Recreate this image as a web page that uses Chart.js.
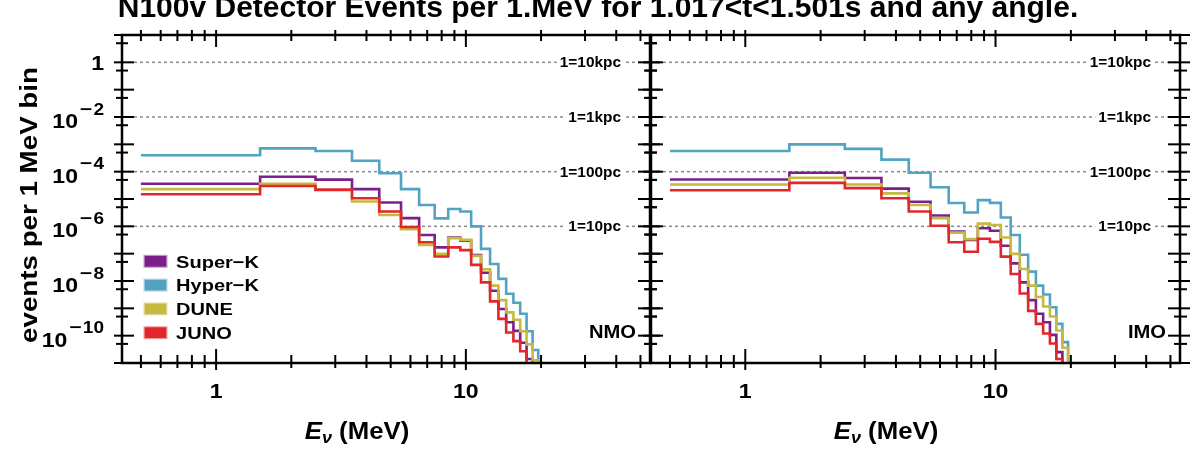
<!DOCTYPE html>
<html>
<head>
<meta charset="utf-8">
<script src="https://cdn.jsdelivr.net/npm/chart.js@4.4.1/dist/chart.umd.min.js"></script>
<style>
  body { margin: 0; background: #fff; }
  #wrap { position: relative; width: 1196px; height: 453px; overflow: hidden; }
  #wrap canvas { position: absolute; left: 0; top: 0; }
</style>
</head>
<body>
<div id="wrap">
  <canvas id="nmo" width="1196" height="453"></canvas>
  <canvas id="imo" width="1196" height="453"></canvas>
</div>
<script>
// bin edges (MeV), 1 MeV bins
var binEdges = [0.5, 1.5, 2.5, 3.5, 4.5, 5.5, 6.5, 7.5, 8.5, 9.5, 10.5,
                11.5, 12.5, 13.5, 14.5, 15.5, 16.5, 17.5, 18.5, 19.5];

var detectors = ["Super\u2212K", "Hyper\u2212K", "DUNE", "JUNO"];
var detColors = ["#7b1f8b", "#52a3c2", "#c6b93f", "#e2262a"];

// normal mass ordering
var nmoSuperK = [3.6e-5, 6.5e-5, 5.1e-5, 2.3e-5, 7.4e-6, 2.0e-6, 4.8e-7, 1.7e-7, 3.9e-7, 3.0e-7,
                 8.9e-8, 2.0e-8, 4.4e-9, 9.5e-10, 3.1e-10, 1.5e-10, 5.5e-11, 1.4e-11];
var nmoHyperK = [4.0e-4, 7.1e-4, 5.7e-4, 2.5e-4, 8.7e-5, 2.3e-5, 6.0e-6, 1.95e-6, 4.3e-6, 3.5e-6,
                 1.0e-6, 1.5e-7, 4.2e-8, 1.2e-8, 3.4e-9, 1.6e-9, 6.3e-10, 1.45e-10, 3.0e-11];
var nmoDune   = [2.3e-5, 3.6e-5, 2.1e-5, 8.1e-6, 2.6e-6, 7.9e-7, 2.1e-7, 9.8e-8, 3.7e-7, 3.2e-7,
                 8.3e-8, 2.7e-8, 6.8e-9, 2.0e-9, 7.1e-10, 3.8e-10, 1.45e-10, 4.8e-11, 1.26e-11];
var nmoJuno   = [1.5e-5, 3.0e-5, 2.2e-5, 1.07e-5, 3.5e-6, 9.5e-7, 2.6e-7, 7.9e-8, 1.7e-7, 1.35e-7,
                 3.9e-8, 8.9e-9, 1.8e-9, 4.1e-10, 1.3e-10, 6.3e-11, 2.7e-11];

// inverted mass ordering
var imoSuperK = [5.2e-5, 9.1e-5, 5.9e-5, 2.4e-5, 7.9e-6, 2.5e-6, 6.5e-7, 3.2e-7, 8.5e-7, 6.9e-7,
                 1.95e-7, 4.4e-8, 8.9e-9, 2.0e-9, 6.3e-10, 3.1e-10, 1.07e-10, 2.5e-11];
var imoHyperK = [5.7e-4, 1.0e-3, 6.8e-4, 2.75e-4, 9.1e-5, 2.7e-5, 7.1e-6, 3.2e-6, 9.1e-6, 7.2e-6,
                 2.1e-6, 4.8e-7, 9.1e-8, 2.2e-8, 6.8e-9, 3.2e-9, 1.1e-9, 2.7e-10, 5.8e-11];
var imoDune   = [3.4e-5, 6.0e-5, 3.4e-5, 1.6e-5, 6.0e-6, 2.0e-6, 5.9e-7, 3.4e-7, 1.26e-6, 1.12e-6,
                 3.9e-7, 9.8e-8, 2.75e-8, 6.8e-9, 2.6e-9, 1.17e-9, 5.0e-10, 1.55e-10, 3.6e-11];
var imoJuno   = [2.1e-5, 3.9e-5, 2.5e-5, 1.07e-5, 3.5e-6, 1.05e-6, 2.6e-7, 1.17e-7, 3.5e-7, 2.7e-7,
                 7.8e-8, 1.8e-8, 3.5e-9, 8.1e-10, 2.7e-10, 1.2e-10, 5.2e-11, 1.4e-11];

// axes
var xMin = 0.42, xMax = 54.6;
var yMin = 1e-11, yMax = 10;
var xMajorTicks = [1, 10];
var xTickLabels = ["1", "10"];
var xMinorTicks = [0.5, 0.6, 0.7, 0.8, 0.9, 2, 3, 4, 5, 6, 7, 8, 9, 20, 30, 40, 50];
var yLabelExps = [0, -2, -4, -6, -8, -10];

// distance reference lines
var refValues = [1, 1e-2, 1e-4, 1e-6];
var refLabels = ["1=10kpc", "1=1kpc", "1=100pc", "1=10pc"];

var titleText = "N100v Detector Events per 1.MeV for 1.017<t<1.501s and any angle.";
var yTitle = "events per 1 MeV bin";

var FONT = '"Liberation Sans", Arial, Helvetica, sans-serif';

function measure(ctx, s, size, style, sx) {
  ctx.save();
  ctx.font = (style || "bold") + " " + size + "px " + FONT;
  var w = ctx.measureText(s).width * (sx || 1);
  ctx.restore();
  return w;
}

// text is drawn a little wider than Liberation, like the original
function drawText(ctx, s, x, y, size, align, style, sx) {
  sx = sx || 1;
  var w = measure(ctx, s, size, style, sx);
  var left = x;
  if (align === "right") left = x - w;
  if (align === "center") left = x - w / 2;
  ctx.save();
  ctx.font = (style || "bold") + " " + size + "px " + FONT;
  ctx.translate(left, y);
  ctx.scale(sx, 1);
  ctx.textAlign = "left";
  ctx.textBaseline = "alphabetic";
  ctx.fillStyle = "#000";
  ctx.fillText(s, 0, 0);
  ctx.restore();
  return w;
}

function histPoints(vals) {
  var pts = [];
  for (var i = 0; i < vals.length; i++) {
    pts.push({ x: binEdges[i], y: vals[i] });
  }
  var hi = binEdges[vals.length];
  pts.push({ x: hi, y: vals[vals.length - 1] });
  pts.push({ x: hi, y: 1e-16 }); // drop out of the frame
  return pts;
}

function line(ctx, x1, y1, x2, y2) {
  ctx.beginPath();
  ctx.moveTo(x1, y1);
  ctx.lineTo(x2, y2);
  ctx.stroke();
}

var panelPlugin = {
  id: "panel",
  beforeDatasetsDraw: function (chart, args, opt) {
    var ctx = chart.ctx, a = chart.chartArea, ys = chart.scales.y;
    ctx.save();
    ctx.strokeStyle = "#8a8a8a";
    ctx.lineWidth = 1.5;
    ctx.setLineDash([3, 3]);
    for (var i = 0; i < refValues.length; i++) {
      var py = ys.getPixelForValue(refValues[i]);
      line(ctx, a.left, py, a.right, py);
    }
    ctx.setLineDash([]);
    for (var i = 0; i < refValues.length; i++) {
      var py = ys.getPixelForValue(refValues[i]);
      var w = measure(ctx, refLabels[i], 14, "bold", 1.1);
      var xr = a.right - 29;
      ctx.fillStyle = "#fff";
      ctx.fillRect(xr - w - 3, py - 7, w + 6, 14);
      drawText(ctx, refLabels[i], xr, py + 5, 14, "right", "bold", 1.1);
    }
    ctx.restore();
  },
  afterDatasetsDraw: function (chart, args, opt) {
    var ctx = chart.ctx, a = chart.chartArea;
    var xs = chart.scales.x, ys = chart.scales.y;
    ctx.save();
    ctx.strokeStyle = "#000";
    ctx.lineCap = "butt";

    // ticks
    ctx.lineWidth = 2;
    var i, px, py;
    for (i = 0; i < xMinorTicks.length; i++) {
      px = xs.getPixelForValue(xMinorTicks[i]);
      line(ctx, px, a.bottom - 8, px, a.bottom + 5);
      line(ctx, px, a.top - 5, px, a.top + 6);
    }
    for (i = 0; i < xMajorTicks.length; i++) {
      px = xs.getPixelForValue(xMajorTicks[i]);
      line(ctx, px, a.bottom - 14, px, a.bottom + 7);
      line(ctx, px, a.top - 5, px, a.top + 12);
    }
    for (var e = -12; e <= 1; e++) {
      var major = Math.pow(10, e), minor = 5 * Math.pow(10, e);
      if (major >= yMin && major <= yMax) {
        py = ys.getPixelForValue(major);
        line(ctx, a.left - 8, py, a.left + 12, py);
        line(ctx, a.right - 12, py, a.right + 10, py);
      }
      if (minor >= yMin && minor <= yMax) {
        py = ys.getPixelForValue(minor);
        line(ctx, a.left - 6, py, a.left + 6, py);
        line(ctx, a.right - 6, py, a.right + 7, py);
      }
    }

    // frame
    ctx.lineWidth = 2.5;
    ctx.strokeRect(a.left, a.top, a.right - a.left, a.bottom - a.top);

    // x tick labels
    for (i = 0; i < xMajorTicks.length; i++) {
      px = xs.getPixelForValue(xMajorTicks[i]);
      drawText(ctx, xTickLabels[i], px, 398, 21, "center", "bold", 1.1);
    }

    // x title: E_nu (MeV)
    var wE = measure(ctx, "E", 23, "italic bold", 1.12);
    var wNu = measure(ctx, "\u03bd", 16, "italic bold", 1.12);
    var wRest = measure(ctx, " (MeV)", 23, "bold", 1.12);
    var x0 = a.left + 235 - (wE + wNu + wRest) / 2;
    drawText(ctx, "E", x0, 439, 23, "left", "italic bold", 1.12);
    drawText(ctx, "\u03bd", x0 + wE, 443, 16, "left", "italic bold", 1.12);
    drawText(ctx, " (MeV)", x0 + wE + wNu, 439, 23, "left", "bold", 1.12);

    // ordering tag
    drawText(ctx, opt.tag, a.right - 14, 337.5, 18, "right", "bold", 1.12);

    if (opt.leftSide) {
      // y tick labels
      for (i = 0; i < yLabelExps.length; i++) {
        var ex = yLabelExps[i];
        py = ys.getPixelForValue(Math.pow(10, ex));
        var xr = a.left - 18;
        if (ex === 0) {
          drawText(ctx, "1", xr, py + 8, 21, "right", "bold", 1.1);
        } else {
          var wd = drawText(ctx, String(Math.abs(ex)), xr, py - 2.5, 17, "right", "bold", 1.12);
          var wm = drawText(ctx, "\u2212", xr - wd - 1, py - 2.5, 17, "right", "bold", 1.25);
          drawText(ctx, "10", xr - wd - wm - 3, py + 11, 21, "right", "bold", 1.1);
        }
      }

      // y title
      ctx.save();
      ctx.translate(37, 205);
      ctx.rotate(-Math.PI / 2);
      drawText(ctx, yTitle, 0, 0, 23.5, "center", "bold", 1.18);
      ctx.restore();

      // legend
      for (i = 0; i < detectors.length; i++) {
        var ry = 261.3 + i * 23.8;
        ctx.fillStyle = detColors[i];
        ctx.fillRect(144.5, ry - 5.5, 22, 11);
        ctx.globalAlpha = 0.45;
        ctx.lineWidth = 1;
        ctx.strokeStyle = detColors[i];
        ctx.strokeRect(144, ry - 6, 23, 12);
        ctx.globalAlpha = 1;
        drawText(ctx, detectors[i], 176, ry + 6.2, 17, "left", "bold", 1.18);
      }

      // title, cut at the top like the original
      drawText(ctx, titleText, 598, 17, 30, "center", "bold", 1);
    }
    ctx.restore();
  }
};

function makePanel(id, series, padLeft, padRight, tag, leftSide) {
  var datasets = [];
  var order = [3, 2, 1, 0]; // JUNO on top
  for (var i = 0; i < series.length; i++) {
    datasets.push({
      label: detectors[i],
      data: histPoints(series[i]),
      borderColor: detColors[i],
      borderWidth: 2.6,
      pointRadius: 0,
      stepped: "before",
      fill: false,
      order: order[i]
    });
  }
  return new Chart(document.getElementById(id).getContext("2d"), {
    type: "line",
    data: { datasets: datasets },
    plugins: [panelPlugin],
    options: {
      responsive: false,
      animation: false,
      devicePixelRatio: 1,
      events: [],
      layout: { padding: { left: padLeft, right: padRight, top: 35, bottom: 90 } },
      scales: {
        x: { type: "logarithmic", min: xMin, max: xMax, display: false },
        y: { type: "logarithmic", min: yMin, max: yMax, display: false }
      },
      plugins: {
        legend: { display: false },
        tooltip: { enabled: false },
        panel: { tag: tag, leftSide: leftSide }
      }
    }
  });
}

makePanel("nmo", [nmoSuperK, nmoHyperK, nmoDune, nmoJuno], 122, 1196 - 650, "NMO", true);
makePanel("imo", [imoSuperK, imoHyperK, imoDune, imoJuno], 651, 1196 - 1180, "IMO", false);
</script>
</body>
</html>
